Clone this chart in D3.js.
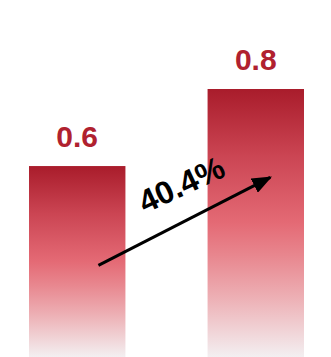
<!DOCTYPE html>
<html lang="en">
    <head>
        <meta charset="utf-8">
        <title>Bar growth</title>
        <script type="text/javascript" src="https://d3js.org/d3.v7.min.js"></script>
        <style>
            body { margin: 0; background: #fff; }
            svg { display: block; }
            .label { font-family: "Liberation Sans", Arial, sans-serif; font-weight: bold; font-size: 30px; fill: #b0212f; }
            .growth { font-family: "Liberation Sans", Arial, sans-serif; font-weight: bold; font-size: 32px; fill: #000; }
        </style>
    </head>
    <body>
        <script>
            // data
            const categories = ["A", "B"];
            const values = [0.57, 0.80];
            const labels = ["0.6", "0.8"];
            const growthText = "40.4%";

            const w = 331;
            const h = 357;
            const svg = d3.select("body")
                        .append("svg")
                        .attr("width", w)
                        .attr("height", h);

            // scales
            const xScale = d3.scaleBand()
                            .domain(categories)
                            .range([29, 304])
                            .paddingInner(0.46)
                            .paddingOuter(0);
            const yScale = d3.scaleLinear()
                            .domain([0, 0.8])
                            .range([h, 89]);

            // gradient for bars (per bar bounding box)
            const defs = svg.append("defs");
            const grad = defs.append("linearGradient")
                .attr("id", "barGrad")
                .attr("x1", 0).attr("y1", 0)
                .attr("x2", 0).attr("y2", 1);
            [[0, "#a91c2b"], [0.25, "#cb4553"], [0.5, "#e46a75"], [0.62, "#e8868e"],
             [0.78, "#edb0b5"], [1, "#f3eff1"]].forEach(function(s) {
                grad.append("stop").attr("offset", s[0]).attr("stop-color", s[1]);
            });

            defs.append("marker")
                .attr("id", "head")
                .attr("markerUnits", "userSpaceOnUse")
                .attr("viewBox", "0 0 20 16")
                .attr("markerWidth", 20)
                .attr("markerHeight", 16)
                .attr("refX", 18)
                .attr("refY", 8)
                .attr("orient", "auto")
                .append("path")
                .attr("d", "M0,0 L20,8 L0,16 Z")
                .attr("fill", "#000");

            // bars
            svg.selectAll("rect.bar")
                .data(values)
                .enter()
                .append("rect")
                .attr("class", "bar")
                .attr("x", function(d, i){ return xScale(categories[i]); })
                .attr("y", function(d){ return yScale(d); })
                .attr("width", xScale.bandwidth())
                .attr("height", function(d){ return h - yScale(d); })
                .attr("fill", "url(#barGrad)");

            // value labels
            svg.selectAll("text.label")
                .data(values)
                .enter()
                .append("text")
                .attr("class", "label")
                .attr("text-anchor", "middle")
                .attr("x", function(d, i){ return xScale(categories[i]) + xScale.bandwidth() / 2; })
                .attr("y", function(d){ return yScale(d) - 19; })
                .text(function(d, i){ return labels[i]; });

            // growth arrow
            const bw = xScale.bandwidth();
            const x1 = xScale(categories[0]) + bw * 0.72;
            const y1 = yScale(values[0] * 0.48);
            const x2 = xScale(categories[1]) + bw * 0.65;
            const y2 = yScale(values[1] * 0.67);
            svg.append("line")
                .attr("x1", x1).attr("y1", y1)
                .attr("x2", x2).attr("y2", y2)
                .attr("stroke", "#000")
                .attr("stroke-width", 3)
                .attr("marker-end", "url(#head)");

            const cx = (x1 + x2) / 2 - 3;
            const cy = (y1 + y2) / 2 - 37;
            svg.append("text")
                .attr("class", "growth")
                .attr("text-anchor", "middle")
                .attr("transform", `translate(${cx},${cy}) rotate(-25)`)
                .attr("dy", "0.35em")
                .text(growthText);
        </script>
    </body>
</html>
